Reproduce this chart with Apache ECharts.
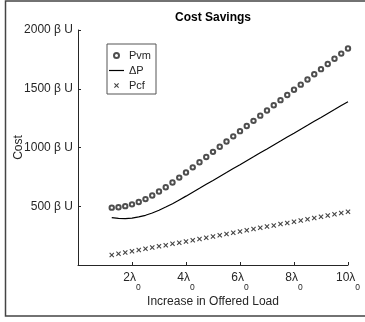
<!DOCTYPE html>
<html>
<head>
<meta charset="utf-8">
<script src="https://cdn.jsdelivr.net/npm/echarts@6/dist/echarts.min.js"></script>
<style>
html,body{margin:0;padding:0;background:#fff;}
#c{width:365px;height:322px;}
</style>
</head>
<body>
<div id="c"></div>
<script>
// Offered load multiples of lambda_0
var loadX = [1.25,1.5,1.75,2,2.25,2.5,2.75,3,3.25,3.5,3.75,4,4.25,4.5,4.75,5,5.25,5.5,5.75,6,6.25,6.5,6.75,7,7.25,7.5,7.75,8,8.25,8.5,8.75,9,9.25,9.5,9.75,10];
var pvm = [488,492,501,516,536,561,591,625,662,702,744,787,831,875,919,963,1007,1051,1095,1139,1183,1227,1271,1315,1359,1403,1447,1491,1535,1579,1623,1667,1711,1755,1799,1843];
var deltaP = [403,396,395,399,409,423,443,466,493,522,554,586,620,653,687,720,754,787,821,854,888,921,955,988,1022,1055,1089,1122,1156,1189,1223,1256,1290,1323,1357,1390];
var pcf = [85,96,106,117,127,138,148,159,169,180,190,201,211,222,232,243,253,264,274,285,295,306,316,327,337,348,358,369,379,390,400,411,421,432,442,453];
var xTicks = [2,4,6,8,10];
var yTicks = [500,1000,1500,2000];
var seriesNames = ['Pvm','\u0394P','Pcf'];

function pairs(xs, ys){ return xs.map(function(x,i){ return [x, ys[i]]; }); }

var FONT = '"Liberation Sans", Arial, Helvetica, sans-serif';
var TXT = '#262626';
var crossPath = 'path://M0,1.5L1.5,0L5,3.5L8.5,0L10,1.5L6.5,5L10,8.5L8.5,10L5,6.5L1.5,10L0,8.5L3.5,5Z';
var dashIcon = 'path://M0,0L30,0L30,2.4L0,2.4Z';

var chart = echarts.init(document.getElementById('c'), null, {renderer:'canvas'});
chart.setOption({
  animation: false,
  backgroundColor: '#fff',
  textStyle: {fontFamily: FONT, color: TXT},
  title: {
    text: 'Cost Savings',
    left: 213, top: 12, padding: 0,
    textAlign: 'center',
    textStyle: {fontFamily: FONT, fontSize: 12, fontWeight: 'bold', color: '#000'}
  },
  graphic: [{
    type: 'rect', silent: true, z: -1,
    shape: {x: 5.5, y: 1, width: 365, height: 315},
    style: {fill: 'none', stroke: '#444', lineWidth: 1.5}
  }],
  legend: {
    orient: 'vertical',
    left: 107, top: 44,
    padding: [6, 5, 3, 2],
    itemWidth: 15, itemHeight: 5, itemGap: 4,
    borderColor: '#555', borderWidth: 1,
    backgroundColor: '#fff',
    textStyle: {fontFamily: FONT, fontSize: 11, color: TXT},
    data: [
      {name: seriesNames[0]},
      {name: seriesNames[1], icon: dashIcon},
      {name: seriesNames[2]}
    ]
  },
  grid: {left: 78, right: 17, top: 30, bottom: 57, containLabel: false, outerBoundsMode: 'none'},
  xAxis: {
    type: 'value', min: 0, max: 10, interval: 2,
    name: 'Increase in Offered Load', nameLocation: 'middle', nameGap: 31, nameMoveOverlap: false,
    nameTextStyle: {fontFamily: FONT, fontSize: 12, color: TXT},
    axisLine: {show: true, lineStyle: {color: TXT, width: 1}},
    axisTick: {show: true, inside: true, length: 3, lineStyle: {color: TXT}},
    splitLine: {show: false},
    axisLabel: {
      margin: 7,
      formatter: function(v){ return xTicks.indexOf(v) >= 0 ? '{m|' + v + '\u03bb}{s|0}' : ''; },
      rich: {
        m: {fontFamily: FONT, fontSize: 12, color: TXT, lineHeight: 14, verticalAlign: 'top'},
        s: {fontFamily: FONT, fontSize: 8.5, color: TXT, lineHeight: 32, verticalAlign: 'middle'}
      }
    }
  },
  yAxis: {
    type: 'value', min: 0, max: 2000, interval: 500,
    name: 'Cost', nameLocation: 'middle', nameGap: 53, nameMoveOverlap: false,
    nameTextStyle: {fontFamily: FONT, fontSize: 12, color: TXT},
    axisLine: {show: true, lineStyle: {color: TXT, width: 1}},
    axisTick: {show: true, inside: true, length: 3, lineStyle: {color: TXT}},
    splitLine: {show: false},
    axisLabel: {
      margin: 5, fontFamily: FONT, fontSize: 12, color: TXT,
      formatter: function(v){ return yTicks.indexOf(v) >= 0 ? v + ' \u03b2 U' : ''; }
    }
  },
  series: [
    {
      name: seriesNames[0], type: 'scatter', data: pairs(loadX, pvm),
      symbol: 'emptyCircle', symbolSize: 4.4,
      itemStyle: {color: '#222', borderColor: '#222', borderWidth: 0.9},
      emphasis: {disabled: true}
    },
    {
      name: seriesNames[1], type: 'line', data: pairs(loadX, deltaP),
      symbol: 'none', smooth: false,
      lineStyle: {color: '#000', width: 1.2},
      itemStyle: {color: '#000'},
      emphasis: {disabled: true}
    },
    {
      name: seriesNames[2], type: 'scatter', data: pairs(loadX, pcf),
      symbol: crossPath, symbolSize: 5,
      itemStyle: {color: '#111', borderWidth: 0},
      emphasis: {disabled: true}
    }
  ]
});
</script>
</body>
</html>
